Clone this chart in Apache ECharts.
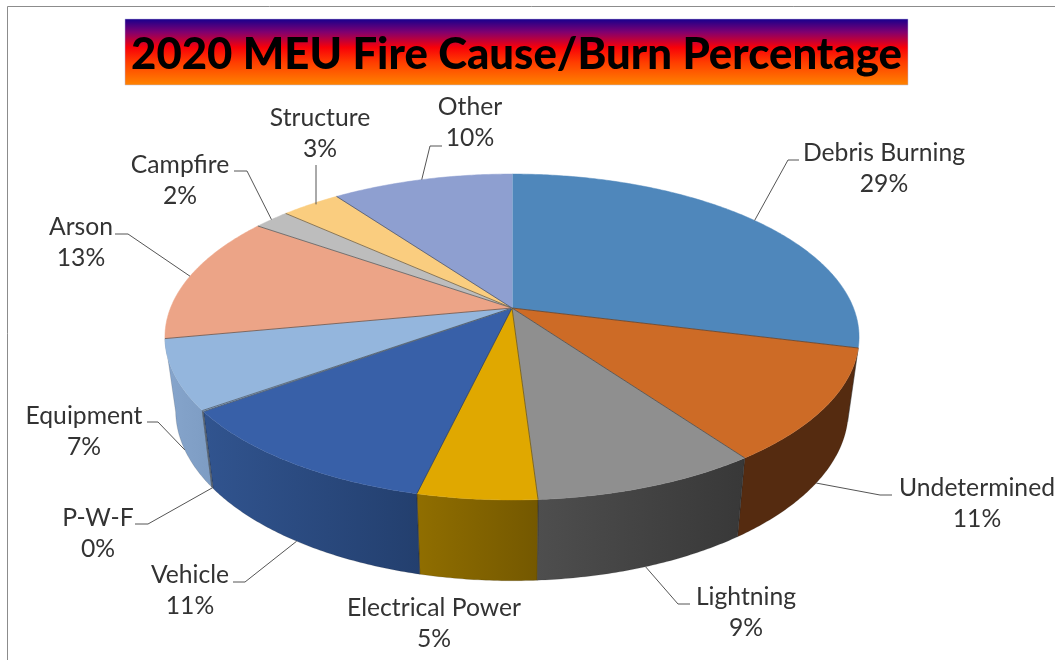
<!DOCTYPE html>
<html><head><meta charset="utf-8">
<style>html,body{margin:0;padding:0;background:#fff}#c{width:1055px;height:660px}</style>
<script src="https://cdn.jsdelivr.net/npm/echarts@6/dist/echarts.min.js"></script>
</head><body><div id="c"></div>
<script>
// ---- data ----
const titleText = '2020 MEU Fire Cause/Burn Percentage';
const categories = ['Debris Burning','Undetermined','Lightning','Electrical Power','Vehicle','P-W-F','Equipment','Arson','Campfire','Structure','Other'];
const percents = [28.9,11.2,8.9,4.7,11.3,0.1,6.9,12.7,2,3.3,10];
// ---- style ----
const topColors = ['#4f87bb','#cd6b26','#8f8f8f','#e0a800','#3860a8','#94b6dd','#94b6dd','#eca487','#bdbdbd','#facd7f','#8e9fd0'];
const wallColors = [null,['#552b10','#552b10'],['#4e4e4e','#383838'],['#906e00','#745800'],['#31548f','#233f6e'],['#7d9cc3','#7d9cc3'],['#86a5cc','#7d9cc3'],null,null,null,null];
// ---- label layout: [centre x, name y, elbow x, elbow y, leader end x] ----
const labelLayout = [
 [884,153,788,160,799],[977,488,880,495,892],[746,597,678,604,690],[434,608,null,null,null],
 [190,575,245,582,233],[98,518,148,524,135],[84,416,158,422,147],[81,227,128,234,115],
 [180,165,247,171,234],[320,118,316,165,316],[470,107,430,146,442]];
// ---- projection of the tilted disc ----
const CX=512, TOPY=308, BOTY=380, RX=341.5, RY=157.8, BRX=331, BRY=165, K=0.178;
function topPt(a){const u=Math.sin(a),v=-Math.cos(a),d=1-K*v;return [CX+RX*u/d,TOPY+RY*v/d];}
function botPt(a){const u=Math.sin(a),v=-Math.cos(a),d=1-K*v;return [CX+BRX*u/d,BOTY+BRY*v/d];}
function arc(fn,a0,a1){const n=Math.max(1,Math.ceil(Math.abs(a1-a0)/0.01));const p=[];for(let i=0;i<=n;i++)p.push(fn(a0+(a1-a0)*i/n));return p;}
const total=percents.reduce((s,v)=>s+v,0);
let run=0;
const spans=percents.map(v=>{const a=run/total*2*Math.PI;run+=v;return [a,run/total*2*Math.PI];});
function hasWall(i){const m=(spans[i][0]+spans[i][1])/2;return m>Math.PI/2&&m<1.5*Math.PI;}
const rows=categories.map((n,i)=>({name:n,value:percents[i]}));

function wallItem(params){
  const i=params.dataIndex; if(!hasWall(i))return {type:'group',children:[]};
  const [a,b]=spans[i]; const c=wallColors[i];
  const pts=arc(topPt,a,b).concat(arc(botPt,b,a));
  return {type:'group',children:[
    {type:'polygon',shape:{points:pts},style:{fill:new echarts.graphic.LinearGradient(0,0,1,0,[{offset:0,color:c[0]},{offset:1,color:c[1]}]),stroke:'rgba(40,40,40,0.25)',lineWidth:0.6}},
    {type:'polyline',shape:{points:[topPt(a),botPt(a)]},style:{fill:null,stroke:'rgba(40,40,40,0.55)',lineWidth:0.8}}
  ]};
}
function topItem(params){
  const i=params.dataIndex;
  const [a,b]=spans[i]; const col=topColors[i];
  const pts=[[CX,TOPY]].concat(arc(topPt,a,b));
  return {type:'group',children:[
    {type:'polygon',shape:{points:pts},style:{fill:col,stroke:col,lineWidth:0.5}},
    {type:'polyline',shape:{points:[[CX,TOPY],topPt(a)]},style:{fill:null,stroke:i===0?'rgba(255,255,255,0.7)':'rgba(45,45,45,0.6)',lineWidth:0.9}}
  ]};
}
function labelItem(params){
  const i=params.dataIndex,[x,y,ex,ey,lx]=labelLayout[i];
  const mid=(spans[i][0]+spans[i][1])/2;
  const kids=[];
  const anchor=hasWall(i)?botPt(mid):topPt(mid);
  if(ex!==null){
    const pts=(ex===lx)?[[lx,anchor[1]],[lx,ey]]:[anchor,[ex,ey],[lx,ey]];
    kids.push({type:'polyline',shape:{points:pts},style:{fill:null,stroke:'#555',lineWidth:1}});
  }
  const txt={fill:'#333',font:'24.7px Lato, sans-serif',textAlign:'center',textVerticalAlign:'middle'};
  kids.push({type:'text',style:Object.assign({text:categories[i],x:x,y:y},txt)});
  kids.push({type:'text',style:Object.assign({text:Math.round(percents[i])+'%',x:x,y:y+31},txt)});
  return {type:'group',children:kids};
}
const chart=echarts.init(document.getElementById('c'),null,{renderer:'canvas'});
const base={type:'custom',coordinateSystem:'none',data:rows,silent:true,animation:false,clip:false};
chart.setOption({
  animation:false,backgroundColor:'#fff',
  title:{text:titleText,left:511.5,top:28,textAlign:'center',
    textStyle:{color:'#000',fontFamily:'Lato, sans-serif',fontWeight:900,fontSize:43.7}},
  graphic:{elements:[
    {type:'polyline',z:-1,shape:{points:[[7.5,660],[7.5,6.5],[1055,6.5]]},style:{fill:null,stroke:'#8c8c8c',lineWidth:1}},
    {type:'rect',z:-1,shape:{x:125,y:19,width:783,height:66},style:{stroke:'#b9b9e0',lineWidth:0.5,fill:new echarts.graphic.LinearGradient(0,0,0,1,[
      {offset:0,color:'#16008e'},{offset:0.2,color:'#800070'},{offset:0.43,color:'#f80008'},{offset:0.65,color:'#ff3c00'},{offset:1,color:'#ff8400'}])}}
  ]},
  series:[
    Object.assign({},base,{name:'walls',z:2,renderItem:wallItem}),
    Object.assign({},base,{name:'tops',z:3,renderItem:topItem}),
    Object.assign({},base,{name:'labels',z:4,renderItem:labelItem})
  ]
});
</script></body></html>
